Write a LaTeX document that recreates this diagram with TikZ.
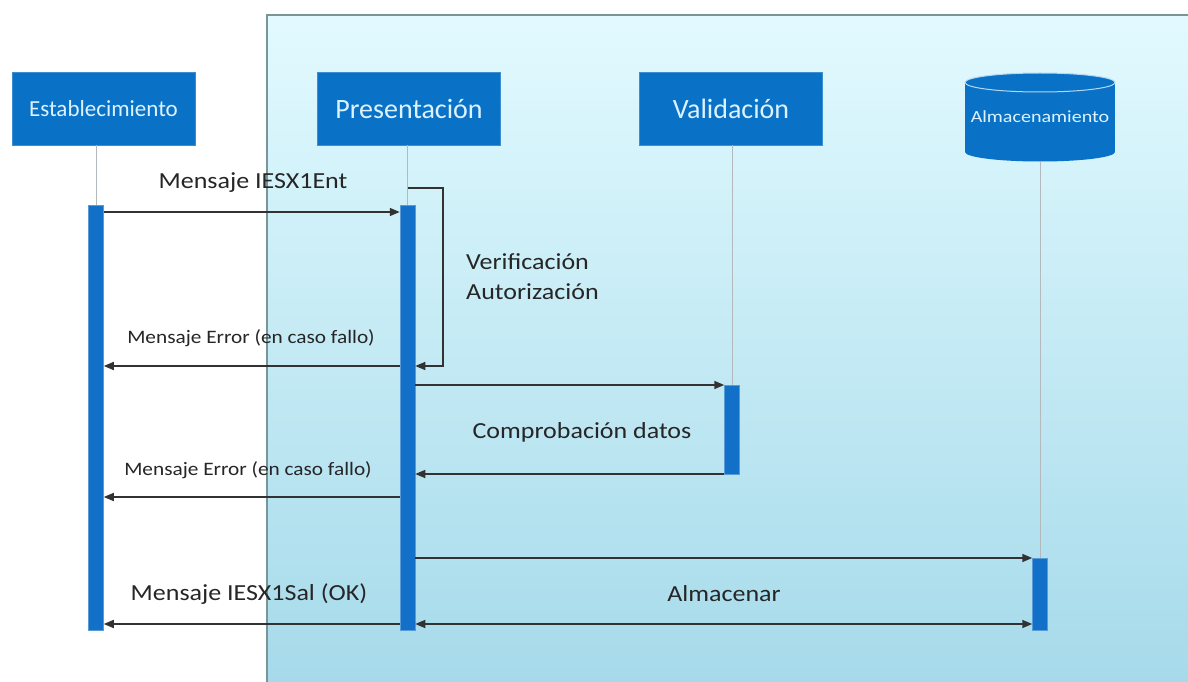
\documentclass[tikz,border=0pt]{standalone}
\usepackage{fontspec}
\setmainfont{Carlito}
\usepackage{graphicx}
\usetikzlibrary{arrows.meta}
\definecolor{boxblue}{RGB}{10,114,198}
\definecolor{barblue}{RGB}{18,112,200}
\definecolor{hdrtext}{RGB}{220,242,255}
\definecolor{bgtop}{RGB}{226,250,255}
\definecolor{bgbot}{RGB}{166,218,234}
\definecolor{bgedge}{RGB}{120,150,150}
\definecolor{arrowc}{RGB}{50,50,50}
\definecolor{lifec}{RGB}{180,185,190}
\newcommand{\hs}[2]{\scalebox{#1}[1]{#2}}
\begin{document}
\begin{tikzpicture}[x=1pt,y=-1pt,
 header/.style={rectangle, fill=boxblue, draw=boxblue!80!white, minimum width=183pt, minimum height=73pt, inner sep=0pt, text=hdrtext},
 actbar/.style={rectangle, fill=barblue, draw=barblue!70!white, line width=0.5pt, minimum width=15pt, inner sep=0pt},
 life/.style={draw=lifec, line width=0.8pt},
 msg/.style={draw=arrowc, line width=1.6pt, -{Triangle[length=10pt,width=8pt]}},
 lbl/.style={text=black!85, inner sep=0pt, font=\fontsize{23}{27}\selectfont},
 slbl/.style={text=black!85, inner sep=0pt, font=\fontsize{19}{23}\selectfont},
]
\useasboundingbox (0,0) rectangle (1188,682);
\fill[white] (0,0) rectangle (1188,682);
\shade[top color=bgtop, bottom color=bgbot] (267,15) rectangle (1188,682);
\draw[bgedge, line width=1.5pt] (267,682) -- (267,15) -- (1188,15);

% headers
\node[header, font=\fontsize{23}{27}\selectfont] (est) at (103.5,108.5) {Establecimiento};
\node[header, font=\fontsize{28}{32}\selectfont] (pres) at (409,108.5) {Presentación};
\node[header, font=\fontsize{28}{32}\selectfont] (val) at (731,108.5) {Validación};

% storage cylinder
\fill[boxblue] (965,82.5) rectangle (1115,152);
\fill[boxblue] (1040,152) ellipse [x radius=75pt, y radius=9.5pt];
\fill[boxblue] (1040,82.5) ellipse [x radius=75pt, y radius=9.5pt];
\draw[hdrtext!80!boxblue, line width=1pt] (1040,82.5) ellipse [x radius=75pt, y radius=9.5pt];
\node[text=hdrtext, inner sep=0pt, font=\fontsize{17}{20}\selectfont] (alm) at (1040,117) {\hs{1.18}{Almacenamiento}};
\coordinate (almbot) at (1040,161.5);

% activation bars
\node[actbar, minimum height=425pt] (b1) at (96,417.5) {};
\node[actbar, minimum height=425pt] (b2) at (407.5,417.5) {};
\node[actbar, minimum height=89pt] (b3) at (732,429.5) {};
\node[actbar, minimum height=72pt] (b4) at (1040,594) {};

% lifelines
\draw[life] (b1.north |- est.south) -- (b1.north);
\draw[life] (b2.north |- pres.south) -- (b2.north);
\draw[life] (b3.north |- val.south) -- (b3.north);
\draw[life] (almbot) -- (b4.north);

% messages
\draw[msg] (b1.east |- 0,212) -- (b2.west |- 0,212);
\node[lbl] (m1) at (253,183) {\hs{1.13}{Mensaje IESX1Ent}};

\draw[msg, line width=1.3pt] (b2.north |- 0,188) -- (443,188) -- (443,366) -- (b2.east |- 0,366);
\node[lbl, anchor=west, align=left] (ver) at (466,277) {\hs{1.13}{Verificación}\\[3pt]\hs{1.13}{Autorización}};

\draw[msg] (b2.west |- 0,366) -- (b1.east |- 0,366);
\node[slbl] (e1) at (251,338) {\hs{1.12}{Mensaje Error (en caso fallo)}};

\draw[msg] (b2.east |- 0,385) -- (b3.west |- 0,385);
\node[lbl] (cd) at (582,432) {\hs{1.13}{Comprobación datos}};
\draw[msg] (b3.west |- 0,474) -- (b2.east |- 0,474);

\draw[msg] (b2.west |- 0,497) -- (b1.east |- 0,497);
\node[slbl] (e2) at (248,470) {\hs{1.12}{Mensaje Error (en caso fallo)}};

\draw[msg] (b2.east |- 0,558) -- (b4.west |- 0,558);

\draw[msg] (b2.west |- 0,624) -- (b1.east |- 0,624);
\node[lbl] (ok) at (249,594) {\hs{1.13}{Mensaje IESX1Sal (OK)}};

\draw[msg, {Triangle[length=10pt,width=8pt]}-{Triangle[length=10pt,width=8pt]}] (b2.east |- 0,624) -- (b4.west |- 0,624);
\node[lbl] (alma) at (724,594) {\hs{1.13}{Almacenar}};
\end{tikzpicture}
\end{document}
